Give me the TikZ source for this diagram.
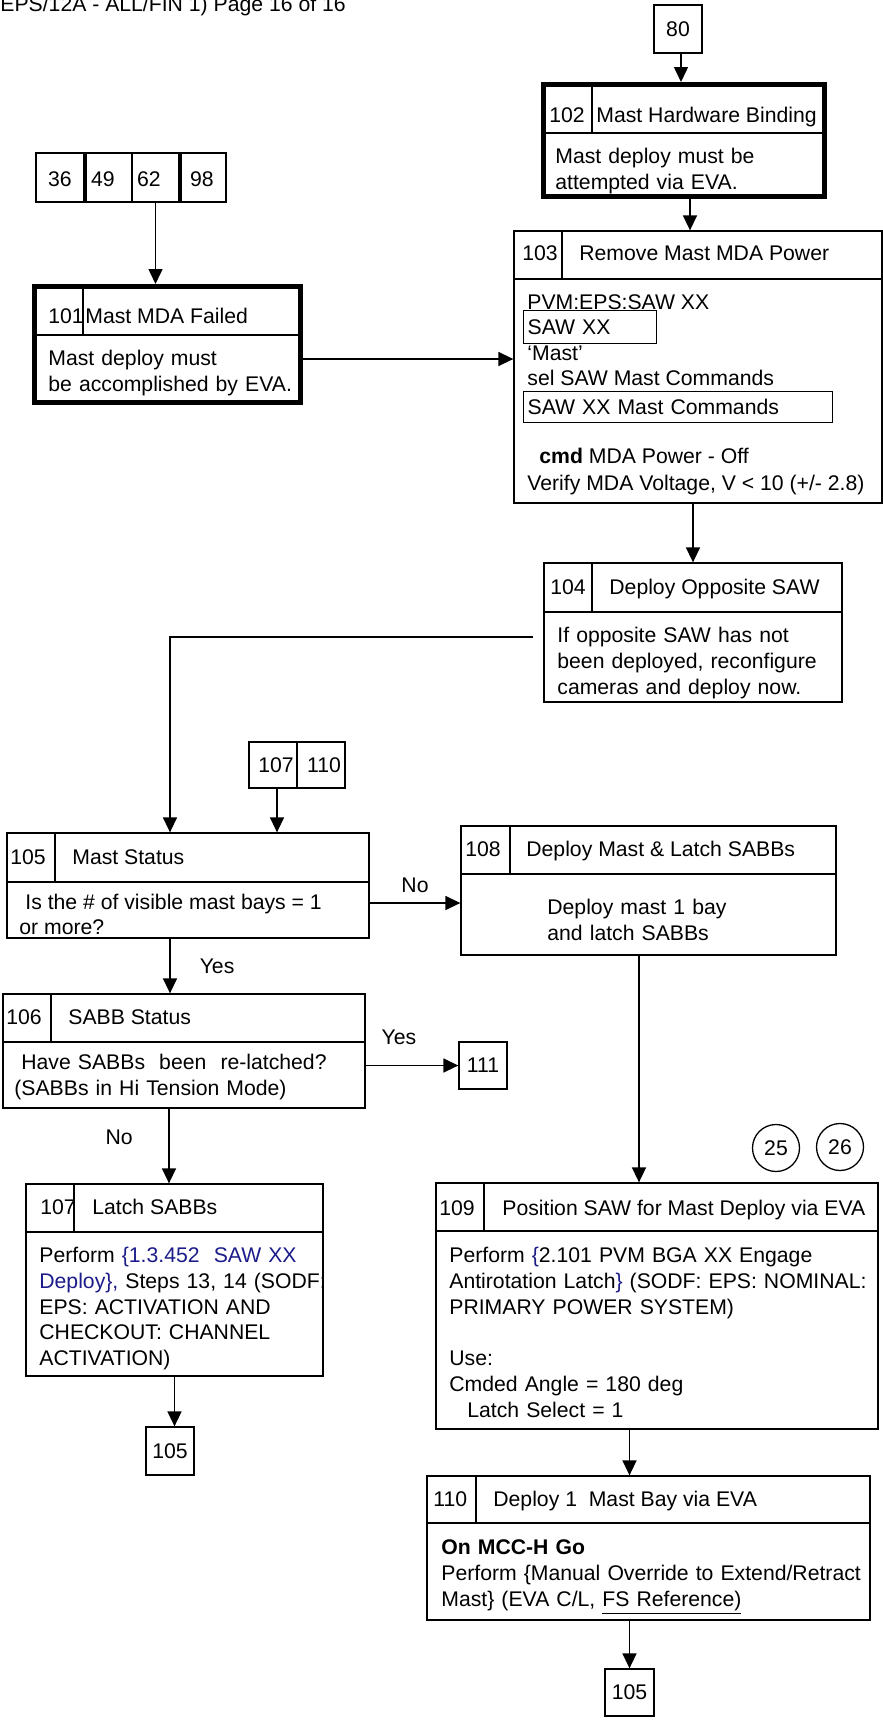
\documentclass[tikz,border=0pt]{standalone}
\usepackage{fontspec}
\setmainfont{Liberation Sans}
\usepackage{tikz}
\usetikzlibrary{arrows.meta}
\definecolor{fpNavy}{HTML}{1B1B8A}
\newcommand{\bodyfont}{\fontsize{10.6pt}{12.9pt}\selectfont}
% frame node from its two corners: [style]{name}{x1}{y1}{x2}{y2}{text}
\newcommand{\boxat}[7][boxframe]{\node[#1,minimum width={(#5-#3)*0.5pt},
  minimum height={(#6-#4)*0.5pt}] (#2) at ({(#3+#5)/2},{(#4+#6)/2}) {#7};}
% header rule and number rule of a step box
\newcommand{\headrule}[3]{\draw[rule] (#1.west |- 0,#2) -- (#1.east |- 0,#2)
  (#3,0 |- #1.north) -- (#3,#2);}

\begin{document}
\begin{tikzpicture}[x=0.5pt,y=-0.5pt,
    boxframe/.style={draw,line width=0.65pt,inner sep=0pt,font=\bodyfont},
    thickframe/.style={draw,line width=2.5pt,inner sep=0pt},
    rule/.style={line width=0.65pt},
    txt/.style={anchor=base west,inner sep=0pt,font=\bodyfont},
    blocktxt/.style={txt,text width=220pt,align=left},
    flow/.style={line width=0.75pt,-{Triangle[length=7.5pt,width=7pt]}},
    tag/.style={inner sep=0pt,font=\bodyfont}]
  \useasboundingbox (0,0) rectangle (883,1725);

  \node[txt] (pagehead) at (0,11.5) {EPS/12A - ALL/FIN 1) Page 16 of 16};

  % entry boxes
  \boxat{b80}{654}{5}{702}{53}{80}
  \boxat{b36}{36}{153}{84}{202}{}
  \boxat{b49}{86}{153}{132}{202}{}
  \boxat{b62}{132}{153}{179}{202}{}
  \boxat{b98}{181}{153}{226}{202}{}
  \node[tag] (n36) at (60,179) {36};
  \node[tag] (n49) at (103,179) {49};
  \node[tag] (n62) at (149,179) {62};
  \node[tag] (n98) at (202,179) {98};

  % 101
  \boxat[thickframe]{b101}{34.5}{286.5}{300.5}{402.5}{}
  \headrule{b101}{335}{83}
  \node[txt] (n101) at (48,323.5) {101};
  \node[txt] (h101) at (85,323.5) {Mast MDA Failed};
  \node[blocktxt] (t101) at (48,365.5) {Mast deploy must\\be accomplished by EVA.};

  % 102
  \boxat[thickframe]{b102}{543.5}{84.5}{824.5}{196.5}{}
  \headrule{b102}{133}{592}
  \node[txt] (n102) at (549,122.5) {102};
  \node[txt] (h102) at (596,122.5) {Mast Hardware Binding};
  \node[blocktxt] (t102) at (555,163.5) {Mast deploy must be\\attempted via EVA.};

  % 103
  \boxat{b103}{514}{231}{882}{503}{}
  \headrule{b103}{279}{562}
  \node[txt] (n103) at (522,260.5) {103};
  \node[txt] (h103) at (579,260.5) {Remove Mast MDA Power};
  \node[txt] (t103a) at (527,309.5) {PVM:EPS:SAW XX};
  \node[boxframe,anchor=north west,inner xsep=2pt,text width=125*0.5pt,align=left,
    minimum height=33*0.5pt] (s103a) at (523,310) {SAW XX};
  \node[txt] (t103b) at (527,360.5) {`Mast'};
  \node[txt] (t103c) at (527,385.5) {sel SAW Mast Commands};
  \node[boxframe,anchor=north west,inner xsep=2pt,text width=301*0.5pt,align=left,
    minimum height=31*0.5pt] (s103b) at (523,391) {SAW XX Mast Commands};
  \node[txt] (t103d) at (539,463.5) {\textbf{cmd} MDA Power - Off};
  \node[txt] (t103e) at (527,490.5) {Verify MDA Voltage, V < 10 (+/- 2.8)};

  % 104
  \boxat{b104}{544}{563}{842}{702}{}
  \headrule{b104}{612}{592}
  \node[txt] (n104) at (550,594.5) {104};
  \node[txt] (h104) at (609,594.5) {Deploy Opposite SAW};
  \node[blocktxt] (t104) at (557,642.5) {If opposite SAW has not\\been deployed, reconfigure\\cameras and deploy now.};
  \coordinate (j104) at (533,637);

  % 105
  \boxat{b107s}{249}{742}{297}{788}{}
  \boxat{b110s}{297}{742}{345}{788}{}
  \node[tag] (n107s) at (276,765) {107};
  \node[tag] (n110s) at (324,765) {110};
  \boxat{b105}{7}{833}{369}{938}{}
  \headrule{b105}{882}{55}
  \node[txt] (n105) at (10,864.5) {105};
  \node[txt] (h105) at (72,864.5) {Mast Status};
  \node[txt] (t105a) at (25,909.5) {Is the \# of visible mast bays = 1};
  \node[txt] (t105b) at (19,934.5) {or more?};

  % 108
  \boxat{b108}{461}{826}{836}{955}{}
  \headrule{b108}{874}{510}
  \node[txt] (n108) at (465,856.5) {108};
  \node[txt] (h108) at (526,856.5) {Deploy Mast \& Latch SABBs};
  \node[blocktxt] (t108) at (547,914.5) {Deploy mast 1 bay\\and latch SABBs};

  % 106
  \boxat{b106}{3}{994}{365}{1108}{}
  \headrule{b106}{1042}{51}
  \node[txt] (n106) at (6,1024.5) {106};
  \node[txt] (h106) at (68,1024.5) {SABB Status};
  \node[blocktxt] (t106) at (14,1069.5) {\hspace*{3.5pt}Have SABBs\ \ been\ \ re-latched?\\(SABBs in Hi Tension Mode)};
  \boxat{b111}{459}{1042}{507}{1089}{111}

  % 107
  \boxat{b107}{26}{1184}{323}{1376}{}
  \headrule{b107}{1232}{74}
  \node[txt] (n107) at (40,1214.5) {107};
  \node[txt] (h107) at (92,1214.5) {Latch SABBs};
  \node[blocktxt] (t107) at (39,1262.5) {Perform {\color{fpNavy}\{1.3.452\ \ SAW XX}\\
    {\color{fpNavy}Deploy\},} Steps 13, 14 (SODF:\\EPS: ACTIVATION AND\\CHECKOUT: CHANNEL\\ACTIVATION)};
  \boxat{b105a}{146}{1427}{194}{1475}{105}

  % 109
  \node[draw,circle,line width=0.65pt,inner sep=0pt,minimum size=47*0.5pt,font=\bodyfont] (c25) at (776,1148) {25};
  \node[draw,circle,line width=0.65pt,inner sep=0pt,minimum size=47*0.5pt,font=\bodyfont] (c26) at (840,1147) {26};
  \boxat{b109}{436}{1183}{878}{1429}{}
  \headrule{b109}{1231}{484}
  \node[txt] (n109) at (439,1215.5) {109};
  \node[txt] (h109) at (502,1215.5) {Position SAW for Mast Deploy via EVA};
  \node[blocktxt] (t109) at (449,1262.5) {Perform {\color{fpNavy}\{}2.101 PVM BGA XX Engage\\
    Antirotation Latch{\color{fpNavy}\}} (SODF: EPS: NOMINAL:\\PRIMARY POWER SYSTEM)\\[12.9pt]
    Use:\\Cmded Angle = 180 deg\\\hspace*{9pt}Latch Select = 1};

  % 110
  \boxat{b110}{427}{1476}{870}{1620}{}
  \headrule{b110}{1523}{476}
  \node[txt] (n110) at (433,1506.5) {110};
  \node[txt] (h110) at (493,1506.5) {Deploy 1\ \ Mast Bay via EVA};
  \node[blocktxt] (t110) at (441,1554.5) {\textbf{On MCC-H Go}\\Perform \{Manual Override to Extend/Retract\\
    Mast\} (EVA C/L, \underline{FS Reference)}};
  \boxat{b105b}{605}{1669}{654}{1716}{105}

  % connectors
  \draw[flow] ([xshift=1.5pt]b80.south) -- ([xshift=1.5pt]b80.south |- b102.north);
  \draw[flow] (b62.south) -- (b62.south |- b101.north);
  \draw[flow] ([yshift=-7.25pt]b101.east) -- ([yshift=-7.25pt]b101.east -| b103.west);
  \draw[flow] ([xshift=3pt]b102.south) -- ([xshift=3pt]b102.south |- b103.north);
  \draw[flow] (b104.north |- b103.south) -- (b104.north);
  \draw[flow] (j104) -| ([xshift=-9pt]b105.north);
  \draw[flow] ([xshift=2pt]b107s.south) -- ([xshift=2pt]b107s.south |- b105.north);
  \draw[flow] ([yshift=-8.75pt]b105.east) -- ([yshift=-8.75pt]b105.east -| b108.west)
    node[tag,midway,anchor=base,yshift=5.25pt] (lno1) {No};
  \draw[flow] ([xshift=-9pt]b105.south) -- ([xshift=-9pt]b105.south |- b106.north)
    node[tag,midway,anchor=west,xshift=14.5pt] (lyes1) {Yes};
  \draw[flow] (b111.west -| b106.east) -- (b111.west)
    node[tag,pos=0.36,anchor=base,yshift=10.5pt] (lyes2) {Yes};
  \draw[flow] ([xshift=-7.5pt]b106.south) -- ([xshift=-7.5pt]b106.south |- b107.north)
    node[tag,midway,anchor=east,xshift=-17.75pt,yshift=4.5pt] (lno2) {No};
  \draw[flow] (b107.south) -- (b107.south |- b105a.north);
  \draw[flow] ([xshift=-4.75pt]b108.south) -- ([xshift=-4.75pt]b108.south |- b109.north);
  \draw[flow] (b109.south -| b105b) -- (b110.north -| b105b);
  \draw[flow] (b110.south -| b105b) -- (b105b.north);
\end{tikzpicture}
\end{document}
